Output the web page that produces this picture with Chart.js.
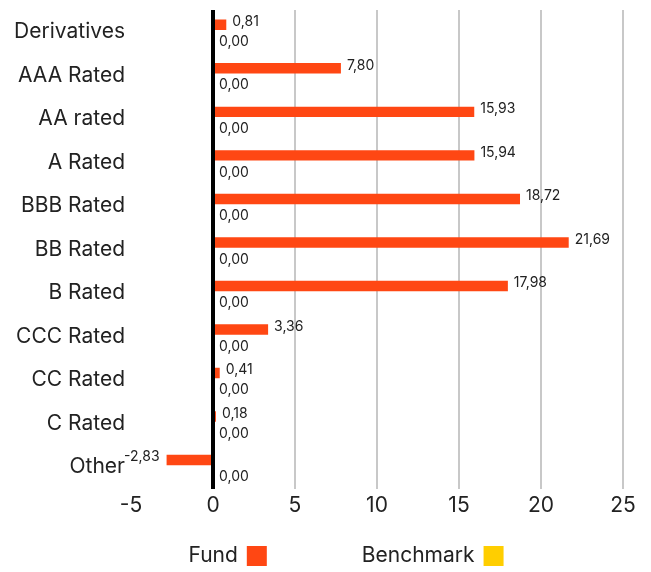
<!DOCTYPE html>
<html>
<head>
<meta charset="utf-8">
<script src="https://cdn.jsdelivr.net/npm/chart.js@4/dist/chart.umd.min.js"></script>
<style>
  html, body { margin: 0; padding: 0; background: #fff; }
  #grafico { display: block; }
</style>
</head>
<body>
<canvas id="grafico" width="651" height="572"></canvas>
<script>
// ==================== DATOS ====================
const categorias = ['Derivatives', 'AAA Rated', 'AA rated', 'A Rated', 'BBB Rated', 'BB Rated',
  'B Rated', 'CCC Rated', 'CC Rated', 'C Rated', 'Other'];
const fondo = [0.81, 7.80, 15.93, 15.94, 18.72, 21.69, 17.98, 3.36, 0.41, 0.18, -2.83];
const benchmark = [0, 0, 0, 0, 0, 0, 0, 0, 0, 0, 0];
const ticksX = { min: -5, max: 25, paso: 5 };

const FUENTE = 'Inter, "Noto Sans", sans-serif';
const TEXTO = '#222222';

// ==================== PLUGINS ====================
// etiquetas de valor junto a cada barra (formato con coma decimal)
const etiquetasBarras = {
  id: 'etiquetasBarras',
  afterDatasetsDraw(chart) {
    const ctx = chart.ctx;
    ctx.save();
    ctx.font = '14px ' + FUENTE;
    ctx.fillStyle = TEXTO;
    ctx.textBaseline = 'middle';
    chart.data.datasets.forEach((ds, i) => {
      const meta = chart.getDatasetMeta(i);
      const dy = i === 0 ? -3 : 3;
      meta.data.forEach((bar, j) => {
        const v = ds.data[j];
        const txt = v.toFixed(2).replace('.', ',');
        if (v < 0) {
          ctx.textAlign = 'right';
          ctx.fillText(txt, bar.x - 7, bar.y + dy);
        } else {
          ctx.textAlign = 'left';
          ctx.fillText(txt, bar.x + 6, bar.y + dy);
        }
      });
    });
    ctx.restore();
  }
};

// leyenda abajo: texto primero y el cuadro de color después
const leyendaAbajo = {
  id: 'leyendaAbajo',
  afterDraw(chart) {
    const ctx = chart.ctx;
    const caja = 20, sep = 9, hueco = 95;
    ctx.save();
    ctx.font = '21px ' + FUENTE;
    const items = chart.data.datasets.map(ds => ({
      label: ds.label, color: ds.backgroundColor, w: ctx.measureText(ds.label).width
    }));
    let total = items.reduce((s, it) => s + it.w + sep + caja, 0) + hueco * (items.length - 1);
    let x = 346 - total / 2;
    const y = chart.height - 16;
    ctx.textBaseline = 'middle';
    ctx.textAlign = 'left';
    items.forEach(it => {
      ctx.fillStyle = TEXTO;
      ctx.fillText(it.label, x, y);
      x += it.w + sep;
      ctx.fillStyle = it.color;
      ctx.fillRect(x, y - caja / 2, caja, caja);
      x += caja + hueco;
    });
    ctx.restore();
  }
};

// ==================== GRÁFICO ====================
const ctx = document.getElementById('grafico').getContext('2d');
const grafico = new Chart(ctx, {
  type: 'bar',
  data: {
    labels: categorias,
    datasets: [
      { label: 'Fund', data: fondo, backgroundColor: '#FF4713',
        categoryPercentage: 0.64, barPercentage: 0.75 },
      { label: 'Benchmark', data: benchmark, backgroundColor: '#FFCE00',
        categoryPercentage: 0.64, barPercentage: 0.75 }
    ]
  },
  options: {
    indexAxis: 'y',
    responsive: false,
    animation: false,
    layout: { padding: { top: 10, right: 28, left: 0, bottom: 50 } },
    plugins: { legend: { display: false }, tooltip: { enabled: false } },
    scales: {
      x: {
        min: ticksX.min, max: ticksX.max,
        ticks: { stepSize: ticksX.paso, color: TEXTO, font: { family: FUENTE, size: 21 }, padding: 4 },
        grid: {
          drawTicks: false,
          color: c => c.tick.value === 0 ? '#000000' : (c.tick.value === ticksX.min ? 'rgba(0,0,0,0)' : '#c8c8c8'),
          lineWidth: c => c.tick.value === 0 ? 4 : 2
        },
        border: { display: false }
      },
      y: {
        afterFit: s => { s.width = 131; s.paddingTop = 0; s.paddingBottom = 0; },
        ticks: { color: TEXTO, font: { family: FUENTE, size: 21 }, padding: 6 },
        grid: { display: false, drawTicks: false },
        border: { display: false }
      }
    }
  },
  plugins: [etiquetasBarras, leyendaAbajo]
});
</script>
</body>
</html>
